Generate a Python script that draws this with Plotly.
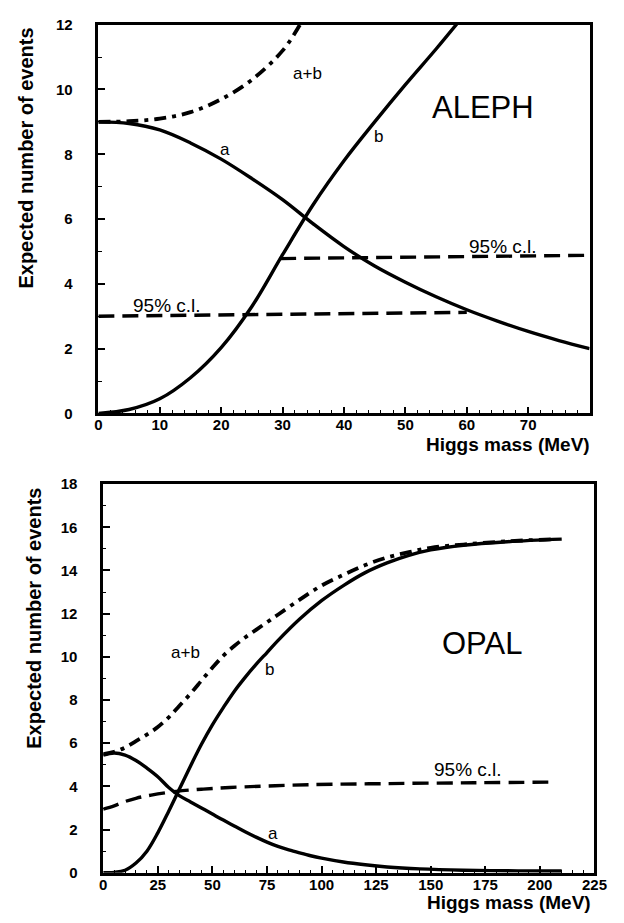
import plotly.graph_objects as go

W, H = 624, 923

# ---- ALEPH (upper panel) ----
aleph_a_x = [0, 5, 10, 15, 20, 25, 30, 35, 40, 45, 50, 55, 60, 65, 70, 75, 80]
aleph_a_y = [9.0, 8.95, 8.75, 8.35, 7.85, 7.25, 6.6, 5.85, 5.15, 4.55, 4.05, 3.6, 3.2, 2.85, 2.53, 2.25, 2.0]

aleph_b_x = [0, 5, 10, 15, 20, 25, 30, 35, 40, 45, 50, 55, 60]
aleph_b_y = [0, 0.12, 0.45, 1.1, 2.03, 3.3, 4.9, 6.45, 7.8, 9.0, 10.15, 11.25, 12.4]

aleph_ab_x = [0, 5, 10, 15, 20, 25, 30, 33, 35]
aleph_ab_y = [9.0, 9.02, 9.1, 9.3, 9.7, 10.3, 11.2, 12.05, 12.7]

aleph_cl_low_x = [0, 60]
aleph_cl_low_y = [3.0, 3.12]
aleph_cl_high_x = [29.6, 80]
aleph_cl_high_y = [4.78, 4.88]

# ---- OPAL (lower panel) ----
opal_a_x = [0, 5, 10, 15, 20, 25, 30, 35, 40, 45, 50, 55, 60, 65, 70, 75, 80, 85, 90, 95, 100,
            110, 120, 130, 145, 165, 190, 210]
opal_a_y = [5.45, 5.55, 5.45, 5.2, 4.85, 4.45, 3.95, 3.56, 3.28, 3.0, 2.72, 2.44, 2.17, 1.9, 1.65, 1.42,
            1.22, 1.06, 0.92, 0.79, 0.68, 0.5, 0.37, 0.27, 0.18, 0.12, 0.09, 0.08]

opal_b_x = [0, 5, 10, 15, 20, 25, 30, 35, 40, 45, 50, 55, 60, 65, 70, 75, 80, 90, 100, 110,
            120, 130, 140, 150, 165, 185, 210]
opal_b_y = [0, 0.02, 0.12, 0.45, 1.0, 1.85, 2.85, 3.9, 4.95, 5.95, 6.85, 7.65, 8.4, 9.05, 9.65, 10.2,
            10.75, 11.75, 12.6, 13.3, 13.9, 14.35, 14.7, 14.95, 15.17, 15.33, 15.45]

opal_ab_x = [0, 5, 10, 15, 20, 25, 30, 35, 40, 45, 50, 55, 60, 65, 70, 75, 80, 90, 100, 110,
             120, 130, 140, 150, 165, 185, 207]
opal_ab_y = [5.5, 5.6, 5.8, 6.1, 6.4, 6.75, 7.2, 7.75, 8.3, 8.9, 9.5, 10.05, 10.5, 10.9, 11.25, 11.6,
             11.95, 12.65, 13.3, 13.8, 14.25, 14.6, 14.85, 15.05, 15.2, 15.35, 15.45]

opal_cl_x = [0, 5, 10, 15, 22, 33.5, 45, 58, 75, 95, 130, 170, 207]
opal_cl_y = [2.95, 3.1, 3.3, 3.45, 3.6, 3.77, 3.87, 3.95, 4.02, 4.08, 4.13, 4.17, 4.2]

aleph_xticks = [0, 10, 20, 30, 40, 50, 60, 70]
opal_xticks = [0, 25, 50, 75, 100, 125, 150, 175, 200, 225]
aleph_yticks = [0, 2, 4, 6, 8, 10, 12]
opal_yticks = [0, 2, 4, 6, 8, 10, 12, 14, 16, 18]

BLACK = "#000000"
SOLID = dict(color=BLACK, width=3.4, shape="spline", smoothing=1.0)
DASHED = dict(color=BLACK, width=3.4, dash="16px,8px", shape="spline", smoothing=1.0)
DASHDOT = dict(color=BLACK, width=3.8, dash="12px,6px,4px,6px", shape="spline", smoothing=1.0)

fig = go.Figure()

def add(x, y, line, xa, ya):
    fig.add_trace(go.Scatter(x=x, y=y, mode="lines", line=line,
                             xaxis=xa, yaxis=ya, showlegend=False, hoverinfo="skip"))

add(aleph_a_x, aleph_a_y, SOLID, "x", "y")
add(aleph_b_x, aleph_b_y, SOLID, "x", "y")
add(aleph_ab_x, aleph_ab_y, DASHDOT, "x", "y")
add(aleph_cl_low_x, aleph_cl_low_y, DASHED, "x", "y")
add(aleph_cl_high_x, aleph_cl_high_y, DASHED, "x", "y")

add(opal_a_x, opal_a_y, SOLID, "x2", "y2")
add(opal_b_x, opal_b_y, SOLID, "x2", "y2")
add(opal_ab_x, opal_ab_y, DASHDOT, "x2", "y2")
add(opal_cl_x, opal_cl_y, DASHED, "x2", "y2")

FONT = "Liberation Sans"
tickfont = dict(family=FONT, size=15, color=BLACK, weight="bold")

def axis(dom, rng, ticks, minor_dtick, standoff):
    return dict(domain=dom, range=rng, tickmode="array", tickvals=ticks,
                ticks="inside", ticklen=7, tickwidth=1.5, tickcolor=BLACK,
                showline=True, linewidth=2.5, linecolor=BLACK, mirror=True,
                showgrid=False, zeroline=False, tickfont=tickfont,
                ticklabelstandoff=standoff,
                minor=dict(tickmode="linear", tick0=0, dtick=minor_dtick,
                           ticks="inside", ticklen=3.5, tickwidth=1.2, tickcolor=BLACK))

fig.update_layout(
    width=W, height=H,
    margin=dict(l=0, r=0, t=0, b=0),
    paper_bgcolor="white", plot_bgcolor="white",
    xaxis=dict(axis([97 / W, 602 / W], [0, 80], aleph_xticks, 2, -4), anchor="y"),
    yaxis=dict(axis([1 - 412 / H, 1 - 16 / H], [0, 12], aleph_yticks, 1, 20), anchor="x"),
    xaxis2=dict(axis([102 / W, 607 / W], [0, 225], opal_xticks, 5, -4), anchor="y2"),
    yaxis2=dict(axis([1 - 880 / H, 1 - 484 / H], [0, 18], opal_yticks, 1, 20), anchor="x2"),
)

def label(x, y, text, xa, ya, size=17, weight="normal"):
    fig.add_annotation(x=x, y=y, xref=xa, yref=ya, text=text, showarrow=False,
                       font=dict(family=FONT, size=size, color=BLACK, weight=weight))

# curve labels, panel names and confidence-limit tags
label(34, 10.5, "a+b", "x", "y")
label(20.6, 8.15, "a", "x", "y")
label(45.6, 8.55, "b", "x", "y")
label(62.7, 9.45, "ALEPH", "x", "y", size=31)
label(11.1, 3.33, "95% c.l.", "x", "y", size=19)
label(65.9, 5.15, "95% c.l.", "x", "y", size=19)

label(37.5, 10.2, "a+b", "x2", "y2")
label(76, 9.4, "b", "x2", "y2")
label(77.7, 1.8, "a", "x2", "y2")
label(167, 4.77, "95% c.l.", "x2", "y2", size=19)
label(173.6, 10.6, "OPAL", "x2", "y2", size=31)

def title(px, py, text, angle=0, xanchor="center", size=20):
    fig.add_annotation(x=px / W, y=1 - py / H, xref="paper", yref="paper", text=text,
                       showarrow=False, textangle=angle, xanchor=xanchor, yanchor="middle",
                       font=dict(family=FONT, size=size, color=BLACK, weight="bold"))

title(23, 152, "Expected number of events", angle=-90)
title(30, 621, "Expected number of events", angle=-90)
title(604, 444, "Higgs mass (MeV)", xanchor="right", size=19)
title(606, 910, "Higgs mass (MeV)", xanchor="right", size=19)

fig.write_html("out.html")
